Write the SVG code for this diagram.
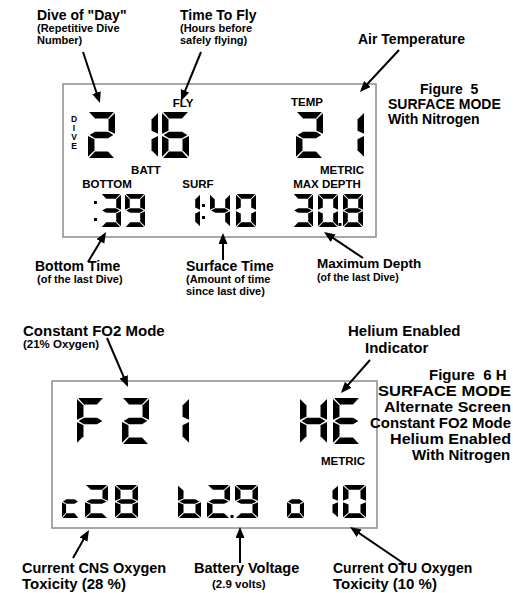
<svg xmlns="http://www.w3.org/2000/svg" width="513" height="593" viewBox="0 0 513 593">
<style>
text{font-family:"Liberation Sans",Arial,sans-serif;font-weight:bold;fill:#000}
.t14{font-size:14px}
.t15{font-size:15px}
.t11{font-size:11px}
.lcd{font-size:11.5px;text-anchor:middle}
.dv{font-size:8.5px;text-anchor:middle}
.box{fill:#fff;stroke:#8c8c8c;stroke-width:1.5}
.arr{stroke:#000;stroke-width:2;fill:none;marker-end:url(#ah)}
</style>
<defs>
<marker id="ah" markerUnits="userSpaceOnUse" markerWidth="12" markerHeight="10" refX="8" refY="4.5" orient="auto"><path d="M0,0 L11,4.5 L0,9 z" fill="#000"/></marker>
<polygon id="sa" points="4,0 96,0 74,24 26,24"/>
<polygon id="sb" points="100,4 100,81 76,69 76,28"/>
<polygon id="sc" points="100,89 100,166 76,142 76,101"/>
<polygon id="sd" points="4,170 96,170 74,146 26,146"/>
<polygon id="se" points="0,89 0,166 24,142 24,101"/>
<polygon id="sf" points="0,4 0,81 24,69 24,28"/>
<polygon id="sg" points="6,85 26,73 74,73 94,85 74,97 26,97"/>
<g id="n0"><use href="#sa"/><use href="#sb"/><use href="#sc"/><use href="#sd"/><use href="#se"/><use href="#sf"/></g>
<g id="n1"><use href="#sb"/><use href="#sc"/></g>
<g id="n2"><use href="#sa"/><use href="#sb"/><use href="#sg"/><use href="#se"/><use href="#sd"/></g>
<g id="n3"><use href="#sa"/><use href="#sb"/><use href="#sg"/><use href="#sc"/><use href="#sd"/></g>
<g id="n4"><use href="#sf"/><use href="#sg"/><use href="#sb"/><use href="#sc"/></g>
<g id="n6"><use href="#sa"/><use href="#sf"/><use href="#sg"/><use href="#se"/><use href="#sd"/><use href="#sc"/></g>
<g id="n8"><use href="#sa"/><use href="#sb"/><use href="#sc"/><use href="#sd"/><use href="#se"/><use href="#sf"/><use href="#sg"/></g>
<g id="n9"><use href="#sa"/><use href="#sb"/><use href="#sf"/><use href="#sg"/><use href="#sc"/><use href="#sd"/></g>
<g id="lF"><use href="#sa"/><use href="#sf"/><use href="#se"/><use href="#sg"/></g>
<g id="lH"><use href="#sf"/><use href="#se"/><use href="#sb"/><use href="#sc"/><use href="#sg"/></g>
<g id="lE"><use href="#sa"/><use href="#sf"/><use href="#se"/><use href="#sg"/><use href="#sd"/></g>
<g id="lb"><use href="#sf"/><use href="#se"/><use href="#sd"/><use href="#sc"/><use href="#sg"/></g>
<g id="lc"><use href="#sg"/><use href="#se"/><use href="#sd"/></g>
<g id="lo"><use href="#sg"/><use href="#se"/><use href="#sd"/><use href="#sc"/></g>
</defs>
<rect width="513" height="593" fill="#fff"/>

<g id="fig5-lcd">
<rect class="box" x="63" y="84" width="313" height="153"/>
<text class="dv" x="74" y="122">D</text>
<text class="dv" x="74" y="131">I</text>
<text class="dv" x="74" y="140">V</text>
<text class="dv" x="74" y="149">E</text>
<text class="lcd" x="183" y="107">FLY</text>
<text class="lcd" x="307" y="106">TEMP</text>
<text class="lcd" x="146" y="174">BATT</text>
<text class="lcd" x="342" y="174">METRIC</text>
<text class="lcd" x="107" y="188">BOTTOM</text>
<text class="lcd" x="198" y="188">SURF</text>
<text class="lcd" x="327" y="188">MAX DEPTH</text>
<use href="#n2" transform="translate(88,112) scale(0.27)"/>
<use href="#n1" transform="translate(131,112) scale(0.27)"/>
<use href="#n6" transform="translate(162,112) scale(0.27)"/>
<use href="#n2" transform="translate(296,112) scale(0.27)"/>
<use href="#n1" transform="translate(337,112) scale(0.27)"/>
<rect x="94" y="201" width="3" height="3"/><rect x="94" y="218" width="3" height="3"/>
<use href="#n3" transform="translate(101,194) scale(0.2,0.194)"/>
<use href="#n9" transform="translate(125,194) scale(0.2,0.194)"/>
<use href="#n1" transform="translate(180,194) scale(0.2,0.194)"/>
<rect x="202" y="204" width="3" height="3"/><rect x="202" y="216" width="3" height="3"/>
<use href="#n4" transform="translate(210,194) scale(0.2,0.194)"/>
<use href="#n0" transform="translate(236,194) scale(0.2,0.194)"/>
<use href="#n3" transform="translate(293,194) scale(0.2,0.194)"/>
<use href="#n0" transform="translate(318,194) scale(0.2,0.194)"/>
<rect x="338.5" y="223" width="3" height="3"/>
<use href="#n8" transform="translate(343,194) scale(0.2,0.194)"/>
</g>

<g id="fig5-labels">
<text class="t14" x="37" y="20">Dive of "Day"</text>
<text class="t11" x="37" y="32">(Repetitive Dive</text>
<text class="t11" x="37" y="44">Number)</text>
<text class="t14" x="180" y="20">Time To Fly</text>
<text class="t11" x="180" y="32">(Hours before</text>
<text class="t11" x="180" y="44">safely flying)</text>
<text class="t14" x="358" y="44">Air Temperature</text>
<text class="t14" x="420" y="94" xml:space="preserve">Figure  5</text>
<text class="t14" x="388" y="109">SURFACE MODE</text>
<text class="t14" x="388" y="124">With Nitrogen</text>
<text class="t14" x="35" y="271">Bottom Time</text>
<text class="t11" x="37" y="283">(of the last Dive)</text>
<text class="t14" x="186" y="271">Surface Time</text>
<text class="t11" x="186" y="283">(Amount of time</text>
<text class="t11" x="186" y="295">since last dive)</text>
<text class="t14" x="317" y="268" style="font-size:13.5px">Maximum Depth</text>
<text class="t11" x="317" y="281" style="font-size:10.5px">(of the last Dive)</text>
</g>

<g id="fig6-lcd">
<rect class="box" x="52" y="381" width="325" height="147"/>
<use href="#lF" transform="translate(77,398) scale(0.27)"/>
<use href="#n2" transform="translate(122,398) scale(0.27)"/>
<use href="#n1" transform="translate(162,398) scale(0.27)"/>
<use href="#lH" transform="translate(300,398) scale(0.27)"/>
<use href="#lE" transform="translate(333,398) scale(0.27)"/>
<text class="lcd" x="343" y="465">METRIC</text>
<use href="#lc" transform="translate(62,485) scale(0.17,0.194)"/>
<use href="#n2" transform="translate(85,485) scale(0.23,0.194)"/>
<use href="#n8" transform="translate(115,485) scale(0.23,0.194)"/>
<use href="#lb" transform="translate(178,485) scale(0.23,0.194)"/>
<use href="#n2" transform="translate(207,485) scale(0.23,0.194)"/>
<rect x="230.5" y="515" width="3" height="3"/>
<use href="#n9" transform="translate(235,485) scale(0.23,0.194)"/>
<use href="#lo" transform="translate(287,485) scale(0.17,0.194)"/>
<use href="#n1" transform="translate(315,485) scale(0.23,0.194)"/>
<use href="#n0" transform="translate(343,485) scale(0.23,0.194)"/>
</g>

<g id="fig6-labels">
<text class="t15" x="23" y="336">Constant FO2 Mode</text>
<text class="t11" x="23" y="348" style="font-size:11.5px">(21% Oxygen)</text>
<text class="t15" x="348" y="336">Helium Enabled</text>
<text class="t15" x="365" y="353">Indicator</text>
<text class="t15" x="429" y="380" xml:space="preserve">Figure  6 H</text>
<text class="t15" x="378" y="396" textLength="133" lengthAdjust="spacingAndGlyphs">SURFACE MODE</text>
<text class="t15" x="384" y="412" textLength="127" lengthAdjust="spacingAndGlyphs">Alternate Screen</text>
<text class="t15" x="370" y="428" textLength="141" lengthAdjust="spacingAndGlyphs">Constant FO2 Mode</text>
<text class="t15" x="390" y="444" textLength="121" lengthAdjust="spacingAndGlyphs">Helium Enabled</text>
<text class="t15" x="412" y="460">With Nitrogen</text>
<text class="t14" x="22" y="573" style="font-size:14.5px">Current CNS Oxygen</text>
<text class="t15" x="22" y="589">Toxicity (28 %)</text>
<text class="t14" x="194" y="573" style="font-size:14.5px">Battery Voltage</text>
<text class="t11" x="212" y="588" style="font-size:11.5px">(2.9 volts)</text>
<text class="t14" x="333" y="573">Current OTU Oxygen</text>
<text class="t15" x="333" y="589">Toxicity (10 %)</text>
</g>

<g id="connectors">
<line class="arr" x1="83" y1="52" x2="99" y2="100.2"/>
<line class="arr" x1="201" y1="52" x2="182.1" y2="98.2"/>
<line class="arr" x1="399" y1="50" x2="362" y2="89.8"/>
<line class="arr" x1="88" y1="262" x2="104.5" y2="234.6"/>
<line class="arr" x1="223" y1="260" x2="223" y2="236"/>
<line class="arr" x1="363" y1="258" x2="326.5" y2="233.7"/>
<line class="arr" x1="107" y1="338" x2="126.8" y2="384.2"/>
<line class="arr" x1="370" y1="360" x2="343" y2="390.7"/>
<line class="arr" x1="73" y1="558" x2="87.5" y2="532.6"/>
<line class="arr" x1="240" y1="563" x2="240" y2="530"/>
<line class="arr" x1="406" y1="565" x2="352.5" y2="528.7"/>
</g>
</svg>
